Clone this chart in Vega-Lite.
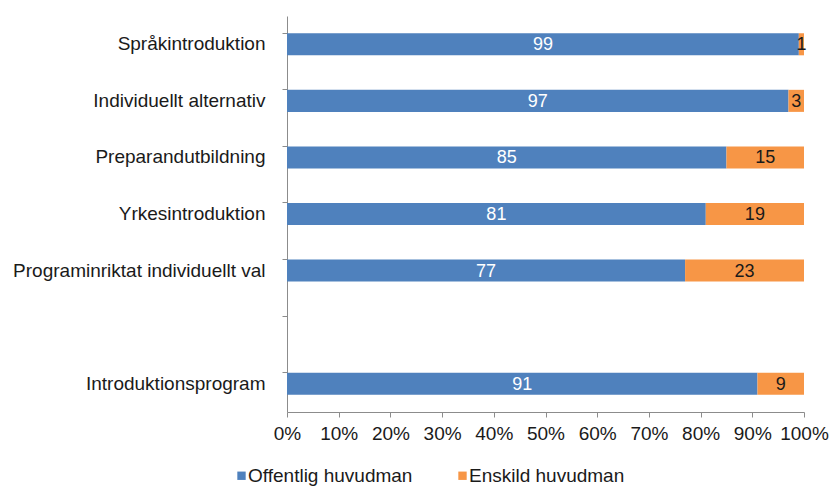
{
  "$schema": "https://vega.github.io/schema/vega-lite/v6.json",
  "autosize": "none",
  "width": 517,
  "height": 396,
  "padding": {"left": 287, "top": 16, "right": 26, "bottom": 74},
  "background": "white",
  "config": {
    "font": "Liberation Sans",
    "view": {"stroke": null},
    "axis": {"grid": false, "domainColor": "#8c8c8c", "tickColor": "#8c8c8c", "labelColor": "#1a1a1a", "labelFont": "Liberation Sans", "labelFontSize": 19, "title": null}
  },
  "data": {
    "values": [
      {"program": "Språkintroduktion", "huvudman": "Offentlig huvudman", "andel": 99, "ord": 1},
      {"program": "Språkintroduktion", "huvudman": "Enskild huvudman", "andel": 1, "ord": 2},
      {"program": "Individuellt alternativ", "huvudman": "Offentlig huvudman", "andel": 97, "ord": 1},
      {"program": "Individuellt alternativ", "huvudman": "Enskild huvudman", "andel": 3, "ord": 2},
      {"program": "Preparandutbildning", "huvudman": "Offentlig huvudman", "andel": 85, "ord": 1},
      {"program": "Preparandutbildning", "huvudman": "Enskild huvudman", "andel": 15, "ord": 2},
      {"program": "Yrkesintroduktion", "huvudman": "Offentlig huvudman", "andel": 81, "ord": 1},
      {"program": "Yrkesintroduktion", "huvudman": "Enskild huvudman", "andel": 19, "ord": 2},
      {"program": "Programinriktat individuellt val", "huvudman": "Offentlig huvudman", "andel": 77, "ord": 1},
      {"program": "Programinriktat individuellt val", "huvudman": "Enskild huvudman", "andel": 23, "ord": 2},
      {"program": "Introduktionsprogram", "huvudman": "Offentlig huvudman", "andel": 91, "ord": 1},
      {"program": "Introduktionsprogram", "huvudman": "Enskild huvudman", "andel": 9, "ord": 2}
    ]
  },
  "transform": [
    {"stack": "andel", "groupby": ["program"], "sort": [{"field": "ord", "order": "ascending"}], "as": ["x0", "x1"]},
    {"calculate": "(datum.x0 + datum.x1) / 2", "as": "xmid"}
  ],
  "encoding": {
    "y": {
      "field": "program",
      "type": "nominal",
      "scale": {
        "domain": ["Språkintroduktion", "Individuellt alternativ", "Preparandutbildning", "Yrkesintroduktion", "Programinriktat individuellt val", " ", "Introduktionsprogram"],
        "paddingInner": 0.61,
        "paddingOuter": 0.305
      },
      "axis": {"bandPosition": 0, "tickSize": 5, "labelPadding": 17, "labelLimit": 300, "domainWidth": 1}
    }
  },
  "layer": [
    {
      "mark": {"type": "bar"},
      "encoding": {
        "x": {
          "field": "x0",
          "type": "quantitative",
          "scale": {"domain": [0, 100], "nice": false},
          "axis": {"values": [0, 10, 20, 30, 40, 50, 60, 70, 80, 90, 100], "labelExpr": "datum.value + '%'", "tickSize": 5, "labelPadding": 7, "labelFlush": false, "labelOverlap": false}
        },
        "x2": {"field": "x1"},
        "color": {
          "field": "huvudman",
          "type": "nominal",
          "scale": {"domain": ["Offentlig huvudman", "Enskild huvudman"], "range": ["#4f81bd", "#f79646"]},
          "legend": {
            "title": null,
            "orient": "none",
            "legendX": -55,
            "legendY": 450,
            "direction": "horizontal",
            "symbolType": "square",
            "symbolSize": 70,
            "symbolStrokeWidth": 0,
            "labelFontSize": 19,
            "labelLimit": 400,
            "labelColor": "#1a1a1a",
            "labelFont": "Liberation Sans",
            "labelOffset": -3,
            "columnPadding": 40
          }
        }
      }
    },
    {
      "mark": {"type": "text", "fontSize": 18, "baseline": "middle", "align": "center", "dy": 1},
      "encoding": {
        "x": {"field": "xmid", "type": "quantitative"},
        "text": {"field": "andel", "type": "quantitative"},
        "color": {
          "condition": {"test": "datum.huvudman == 'Offentlig huvudman'", "value": "white"},
          "value": "#1a1a1a"
        }
      }
    }
  ]
}
